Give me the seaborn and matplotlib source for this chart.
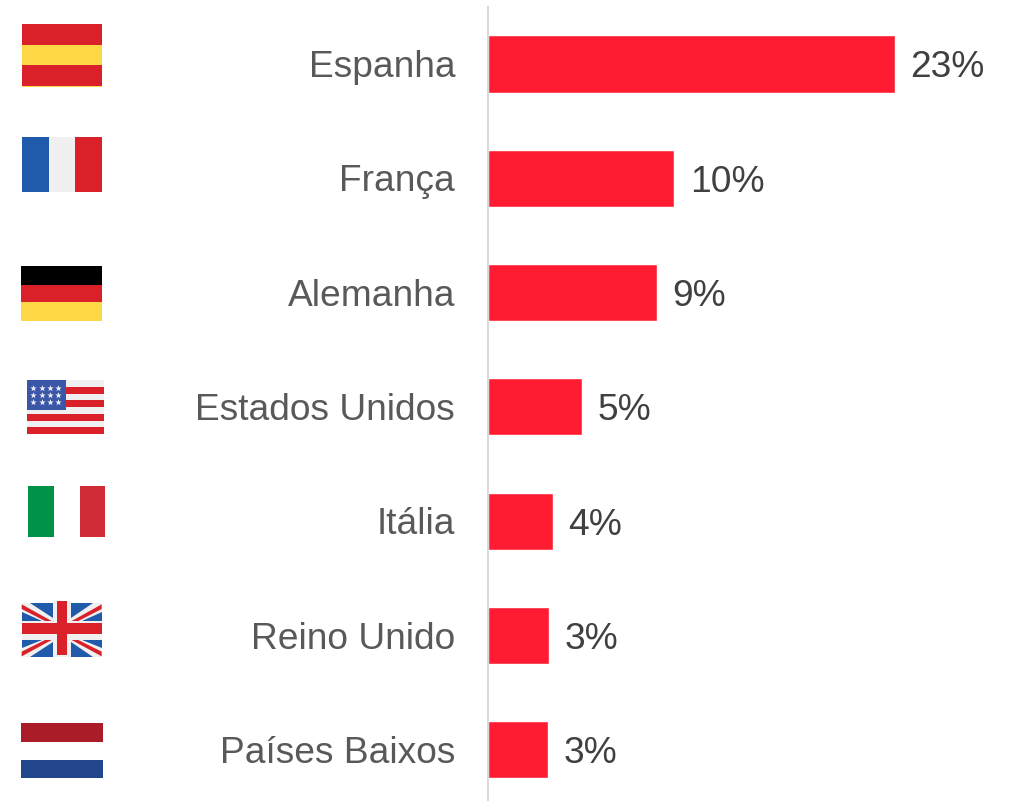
import matplotlib
matplotlib.use("Agg")
import matplotlib.pyplot as plt
from matplotlib.patches import Rectangle, Polygon
from matplotlib.transforms import ScaledTranslation
import seaborn as sns
import pandas as pd

countries = ["Espanha", "França", "Alemanha", "Estados Unidos", "Itália", "Reino Unido", "Países Baixos"]
shares = [23.0, 10.55, 9.55, 5.32, 3.67, 3.45, 3.4]
value_labels = ["23%", "10%", "9%", "5%", "4%", "3%", "3%"]

W, H = 1012, 801
BAR = "#FF1C32"
RED, YEL, BLUE, WHT = "#DA212A", "#FFD945", "#1F5AAB", "#F0F0F0"

sns.set_theme(style="white")
plt.rcParams["font.family"] = ["Liberation Sans", "DejaVu Sans"]

fig = plt.figure(figsize=(W / 100, H / 100), dpi=100)
ax = fig.add_axes([487.6 / W, 0, (W - 487.6) / W, (H - 7) / H])
df = pd.DataFrame({"pais": countries, "share": shares})
sns.barplot(data=df, y="pais", x="share", color=BAR, saturation=1, width=0.5, ax=ax)
ax.set_xlim(0, (W - 487.6) / (407 / 23))
ax.set_ylim(6.447, -0.498)
ax.set_xlabel("")
ax.set_ylabel("")
ax.set_xticks([])
ax.tick_params(axis="y", length=0, pad=23.6, labelsize=26.7, labelcolor="#595959")
up = ScaledTranslation(0.3 / 72, 0.5 / 100, fig.dpi_scale_trans)
for lab in ax.get_yticklabels():
    lab.set_transform(lab.get_transform() + up)
for s in ("top", "right", "bottom"):
    ax.spines[s].set_visible(False)
ax.spines["left"].set_color("#D9D9D9")
ax.spines["left"].set_linewidth(1.5)
for ann in ax.bar_label(ax.containers[0], labels=value_labels, padding=11.5, fontsize=26.7, color="#404040"):
    ann.set_verticalalignment("center_baseline")

# flag icons, drawn in pixel coordinates on a full-figure overlay
fl = fig.add_axes([0, 0, 1, 1], zorder=5)
fl.set_xlim(0, W)
fl.set_ylim(H, 0)
fl.axis("off")


def rect(x0, y0, x1, y1, c):
    fl.add_patch(Rectangle((x0, y0), x1 - x0, y1 - y0, facecolor=c, edgecolor="none"))


def poly(points, c):
    # points are in the 3x crop units of the UK flag
    fl.add_patch(Polygon([(15 + a / 3, 595 + b / 3) for a, b in points], closed=True,
                         facecolor=c, edgecolor="none"))


# Spain
rect(22, 24, 102, 87, YEL)
rect(22, 24, 102, 45, RED)
rect(22, 65, 102, 86, RED)
# France
rect(22, 137, 49, 192, BLUE)
rect(49, 137, 75, 192, WHT)
rect(75, 137, 102, 192, RED)
# Germany
rect(21, 266, 102, 285, "#000000")
rect(21, 285, 102, 302, RED)
rect(21, 302, 102, 321, YEL)
# USA
rect(27, 380, 104, 434, WHT)
for a, b in [(387, 394), (400, 407), (414, 421), (427, 434)]:
    rect(27, a, 104, b, RED)
rect(27, 380, 66, 410, "#3A56A6")
fl.scatter([33.3, 41.7, 50, 58.3] * 3, [387.7] * 4 + [395] * 4 + [402.3] * 4, marker="*", s=24,
           color="#EEF0F8", linewidths=0)
# Italy
rect(28, 486, 54, 537, "#009247")
rect(80, 486, 105, 537, "#CF2C37")
# UK
rect(21.7, 603.3, 101.7, 657, WHT)
for pts in ([(45, 25), (113, 25), (113, 70)], [(20, 50), (20, 78), (80, 78)],
            [(235, 25), (167, 25), (167, 70)], [(260, 50), (260, 78), (200, 78)],
            [(45, 187), (113, 187), (113, 142)], [(20, 160), (20, 135), (80, 135)],
            [(235, 187), (167, 187), (167, 142)], [(260, 160), (260, 135), (200, 135)]):
    poly(pts, BLUE)
for pts in ([(20, 28), (110, 78), (90, 78), (20, 42)], [(260, 28), (170, 78), (190, 78), (260, 42)],
            [(20, 184), (110, 135), (90, 135), (20, 170)], [(260, 184), (170, 135), (190, 135), (260, 170)]):
    poly(pts, RED)
rect(52.7, 601, 70, 657, WHT)
rect(56.7, 601, 66.7, 655, RED)
rect(21.7, 623.3, 101.7, 634, RED)
# Netherlands
rect(21, 723, 103, 742, "#A91C28")
rect(21, 760, 103, 778, "#21468B")

fig.savefig("out.png", dpi=100, facecolor="white")
